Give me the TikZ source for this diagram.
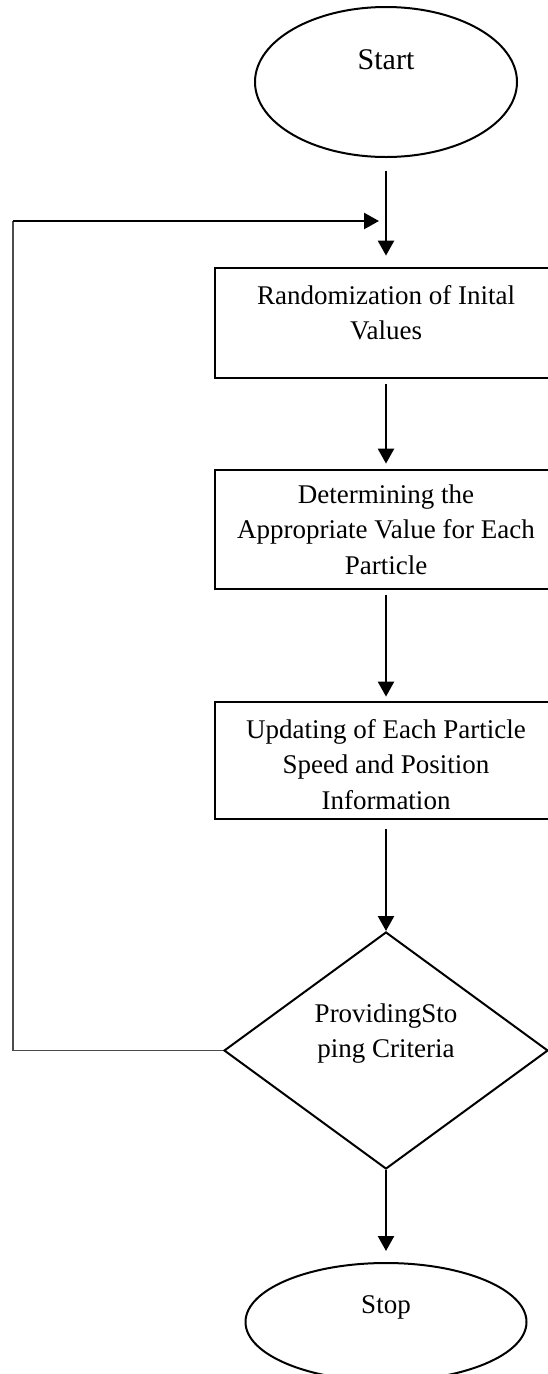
\documentclass[tikz,border=0pt]{standalone}
\usepackage{fontspec}
\setmainfont{Liberation Serif}
\usepackage{tikz}
\usetikzlibrary{positioning}
\usetikzlibrary{arrows.meta}
\usetikzlibrary{shapes}

\begin{document}
\begin{tikzpicture} [
    x=1pt, y=-1pt,                          % work in picture pixels, top-down
    font=\fontsize{27}{35.5}\selectfont,
    every label/.style={align=center},
    ]
% -------------------------------------------------
\tikzset{
  base/.style={draw, on grid, align=center},
  oval/.style={base, ellipse, line width=2pt, minimum width=262pt, minimum height=150pt},
  rect/.style={base, rectangle, line width=2.8pt, minimum width=342pt},
  test/.style={base, diamond, aspect=1.37, line width=2pt, minimum width=324pt, minimum height=237pt},
  line/.style={draw, line width=2.4pt, -{Triangle[width=16pt,length=15pt]}},
  fb/.style={draw, line width=1.6pt, black!70},
}
    \useasboundingbox (0,0) rectangle (548,1374);
    \clip (0,0) rectangle (548,1374);

    \node [oval, label={[yshift=22pt, font=\fontsize{30}{36}\selectfont]center:Start}] (start) at (386,82) {};
    \node [rect, minimum height=110pt, below=241pt of start,
           label={[yshift=10.5pt]center:{Randomization of Inital\\Values}}] (init) {};
    \node [rect, minimum height=119pt, below=206.5pt of init,
           label={center:{Determining the\\Appropriate Value for Each\\Particle}}] (best) {};
    \node [rect, minimum height=117pt, below=231pt of best,
           label={[yshift=-4pt]center:{Updating of Each Particle\\Speed and Position\\Information}}] (update) {};
    \node [test, below=290pt of update,
           label={[yshift=17pt]center:{ProvidingSto\\ping Criteria}}] (cond) {};
    \node [oval, minimum width=281pt, minimum height=118pt, below=271.5pt of cond,
           label={[yshift=15pt]center:Stop}] (stop) {};

    \coordinate (back) at (13,221);
    \coordinate (entry) at (379,221);

    \path [line, shorten <=13pt, shorten >=11pt] (start) -- (init);
    \path [line, shorten <=5pt, shorten >=5pt] (init) -- (best);
    \path [line, shorten <=5pt, shorten >=4pt] (best) -- (update);
    \path [line, shorten <=9pt] (update) -- (cond);
    \path [line, shorten >=11pt] (cond) -- (stop);

    \path [fb] (cond.west) -| (back);
    \path [line] (back) -- (entry);

\end{tikzpicture}
\end{document}
